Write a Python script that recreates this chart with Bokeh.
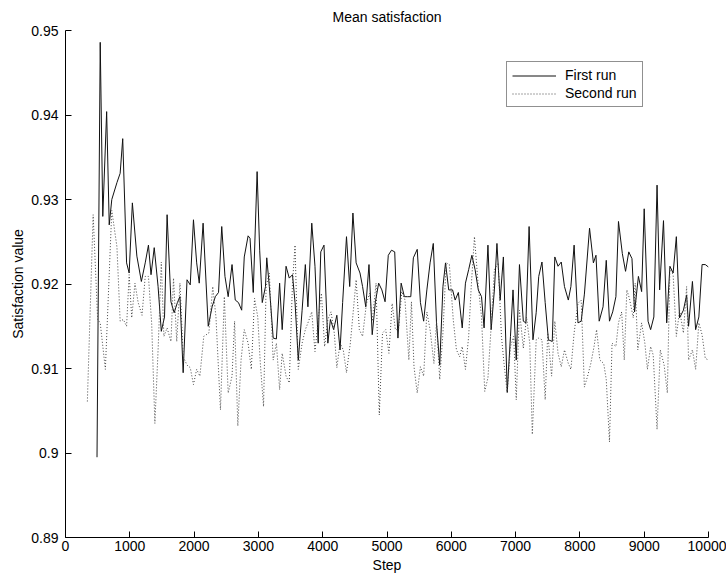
from bokeh.plotting import figure
from bokeh.models import Range1d, FixedTicker, PrintfTickFormatter, Legend, LegendItem
from bokeh.embed import file_html
from bokeh.resources import INLINE

# ---- data ----
first_steps = [490, 540, 580, 640, 680, 720, 800, 850, 890, 950, 990, 1040, 1110, 1180, 1240, 1290, 1330,
               1380, 1440, 1490, 1540, 1580, 1640, 1690, 1740, 1780, 1830, 1890, 1940, 1990, 2040, 2080,
               2140, 2220, 2280, 2330, 2380, 2430, 2480, 2530, 2590, 2640, 2690, 2740, 2780, 2840, 2870,
               2920, 2980, 3020, 3060, 3110, 3130, 3170, 3230, 3280, 3330, 3370, 3430, 3480, 3530, 3570,
               3620, 3680, 3730, 3770, 3830, 3880, 3930, 3970, 4020, 4080, 4120, 4170, 4220, 4270, 4310,
               4370, 4420, 4470, 4520, 4580, 4620, 4670, 4720, 4770, 4820, 4870, 4920, 4970, 5020, 5070,
               5120, 5170, 5220, 5270, 5320, 5370, 5410, 5470, 5520, 5570, 5620, 5670, 5720, 5770, 5820,
               5870, 5910, 5960, 6020, 6060, 6110, 6170, 6220, 6270, 6320, 6370, 6420, 6470, 6510, 6570,
               6620, 6670, 6710, 6760, 6810, 6870, 6920, 6960, 7010, 7060, 7120, 7160, 7210, 7270, 7320,
               7360, 7410, 7460, 7510, 7570, 7610, 7660, 7710, 7760, 7820, 7860, 7910, 7970, 8020, 8070,
               8150, 8210, 8250, 8300, 8360, 8410, 8460, 8510, 8560, 8600, 8660, 8710, 8760, 8810, 8850,
               8910, 8960, 9000, 9060, 9100, 9150, 9200, 9240, 9300, 9350, 9400, 9450, 9500, 9550, 9610,
               9660, 9690, 9750, 9800, 9850, 9900, 9950, 10000]
first_vals = [0.8995, 0.9486, 0.9280, 0.9404, 0.9270, 0.9300, 0.9320, 0.9331, 0.9372, 0.9225, 0.9213,
              0.9296, 0.9233, 0.9203, 0.9225, 0.9246, 0.9211, 0.9243, 0.9197, 0.9144, 0.9161, 0.9282,
              0.9179, 0.9166, 0.9178, 0.9185, 0.9095, 0.9205, 0.9199, 0.9276, 0.9225, 0.9201, 0.9272,
              0.9150, 0.9173, 0.9185, 0.9190, 0.9268, 0.9209, 0.9185, 0.9223, 0.9181, 0.9178, 0.9169,
              0.9232, 0.9257, 0.9254, 0.9190, 0.9333, 0.9240, 0.9178, 0.9197, 0.9231, 0.9197, 0.9136,
              0.9135, 0.9201, 0.9146, 0.9221, 0.9207, 0.9211, 0.9178, 0.9110, 0.9169, 0.9223, 0.9173,
              0.9272, 0.9221, 0.9130, 0.9238, 0.9246, 0.9130, 0.9158, 0.9146, 0.9163, 0.9122, 0.9178,
              0.9256, 0.9197, 0.9284, 0.9225, 0.9213, 0.9197, 0.9173, 0.9223, 0.9140, 0.9179, 0.9201,
              0.9193, 0.9179, 0.9234, 0.9240, 0.9238, 0.9136, 0.9201, 0.9185, 0.9185, 0.9185, 0.9231,
              0.9241, 0.9178, 0.9156, 0.9193, 0.9225, 0.9248, 0.9154, 0.9104, 0.9197, 0.9225, 0.9193,
              0.9193, 0.9181, 0.9190, 0.9148, 0.9201, 0.9217, 0.9234, 0.9217, 0.9193, 0.9185, 0.9148,
              0.9246, 0.9146, 0.9193, 0.9248, 0.9181, 0.9232, 0.9072, 0.9138, 0.9193, 0.9110, 0.9223,
              0.9156, 0.9154, 0.9268, 0.9134, 0.9166, 0.9209, 0.9226, 0.9178, 0.9134, 0.9132, 0.9232,
              0.9221, 0.9226, 0.9197, 0.9181, 0.9197, 0.9246, 0.9154, 0.9156, 0.9188, 0.9266, 0.9225,
              0.9234, 0.9156, 0.9173, 0.9228, 0.9156, 0.9167, 0.9185, 0.9274, 0.9236, 0.9215, 0.9238,
              0.9230, 0.9167, 0.9209, 0.9191, 0.9289, 0.9156, 0.9146, 0.9161, 0.9317, 0.9193, 0.9275,
              0.9154, 0.9221, 0.9213, 0.9256, 0.9160, 0.9169, 0.9187, 0.9150, 0.9203, 0.9146, 0.9161,
              0.9223, 0.9223, 0.9220]

second_steps = [340, 430, 500, 540, 620, 720, 800, 850, 900, 950, 990, 1030, 1080, 1130, 1190, 1240, 1290,
                1340, 1390, 1440, 1490, 1530, 1580, 1640, 1680, 1730, 1780, 1830, 1890, 1940, 1990, 2040,
                2090, 2150, 2230, 2290, 2340, 2410, 2470, 2530, 2590, 2630, 2680, 2730, 2780, 2840, 2890,
                2940, 2990, 3030, 3080, 3120, 3170, 3230, 3280, 3330, 3370, 3430, 3480, 3530, 3570, 3620,
                3680, 3730, 3780, 3830, 3880, 3940, 3980, 4030, 4080, 4130, 4180, 4220, 4270, 4320, 4370,
                4430, 4520, 4570, 4620, 4680, 4730, 4770, 4830, 4880, 4930, 4980, 5030, 5080, 5130, 5180,
                5230, 5280, 5340, 5380, 5420, 5470, 5520, 5570, 5620, 5670, 5730, 5770, 5820, 5870, 5920,
                5970, 6030, 6080, 6130, 6170, 6220, 6270, 6310, 6360, 6420, 6470, 6520, 6570, 6620, 6670,
                6730, 6780, 6820, 6870, 6920, 6970, 7010, 7060, 7120, 7170, 7220, 7260, 7320, 7360, 7410,
                7460, 7500, 7560, 7610, 7660, 7710, 7760, 7820, 7860, 7910, 7970, 8020, 8070, 8120, 8170,
                8220, 8260, 8310, 8370, 8410, 8460, 8500, 8560, 8600, 8650, 8690, 8730, 8770, 8830, 8860,
                8900, 8960, 9010, 9050, 9100, 9140, 9200, 9250, 9310, 9360, 9400, 9450, 9500, 9550, 9610,
                9660, 9690, 9750, 9800, 9850, 9900, 9950, 10000]
second_vals = [0.9061, 0.9282, 0.9158, 0.9154, 0.9099, 0.9287, 0.9244, 0.9156, 0.9158, 0.9150, 0.9211,
               0.9160, 0.9201, 0.9178, 0.9163, 0.9209, 0.9209, 0.9154, 0.9035, 0.9122, 0.9226, 0.9138,
               0.9148, 0.9132, 0.9207, 0.9132, 0.9201, 0.9114, 0.9104, 0.9101, 0.9081, 0.9099, 0.9091,
               0.9138, 0.9142, 0.9197, 0.9161, 0.9051, 0.9185, 0.9071, 0.9091, 0.9156, 0.9032, 0.9110,
               0.9146, 0.9130, 0.9099, 0.9183, 0.9161, 0.9106, 0.9055, 0.9197, 0.9213, 0.9110, 0.9130,
               0.9075, 0.9118, 0.9091, 0.9083, 0.9201, 0.9246, 0.9099, 0.9130, 0.9146, 0.9156, 0.9167,
               0.9120, 0.9165, 0.9189, 0.9126, 0.9158, 0.9167, 0.9142, 0.9101, 0.9130, 0.9122, 0.9095,
               0.9130, 0.9205, 0.9146, 0.9138, 0.9177, 0.9189, 0.9156, 0.9201, 0.9045, 0.9142, 0.9146,
               0.9118, 0.9177, 0.9146, 0.9146, 0.9191, 0.9181, 0.9110, 0.9179, 0.9102, 0.9071, 0.9102,
               0.9091, 0.9167, 0.9146, 0.9106, 0.9156, 0.9087, 0.9142, 0.9225, 0.9223, 0.9158, 0.9122,
               0.9114, 0.9126, 0.9099, 0.9138, 0.9197, 0.9256, 0.9197, 0.9161, 0.9073, 0.9089, 0.9150,
               0.9217, 0.9225, 0.9138, 0.9106, 0.9071, 0.9126, 0.9138, 0.9063, 0.9169, 0.9124, 0.9161,
               0.9130, 0.9022, 0.9134, 0.9136, 0.9134, 0.9063, 0.9142, 0.9091, 0.9156, 0.9118, 0.9102,
               0.9122, 0.9106, 0.9099, 0.9142, 0.9177, 0.9181, 0.9078, 0.9091, 0.9106, 0.9126, 0.9146,
               0.9110, 0.9106, 0.9087, 0.9013, 0.9130, 0.9126, 0.9154, 0.9167, 0.9110, 0.9193, 0.9183,
               0.9160, 0.9201, 0.9122, 0.9154, 0.9130, 0.9099, 0.9126, 0.9116, 0.9028, 0.9122, 0.9104,
               0.9071, 0.9219, 0.9211, 0.9138, 0.9169, 0.9142, 0.9197, 0.9110, 0.9122, 0.9099, 0.9154,
               0.9140, 0.9112, 0.9110]

x_ticks = [0, 1000, 2000, 3000, 4000, 5000, 6000, 7000, 8000, 9000, 10000]
y_ticks = [0.89, 0.90, 0.91, 0.92, 0.93, 0.94, 0.95]

FONT = "Liberation Sans"

p = figure(width=726, height=575, output_backend="svg", toolbar_location=None,
           x_range=Range1d(0, 10000), y_range=Range1d(0.89, 0.95),
           min_border_left=65, min_border_right=18, min_border_top=30, min_border_bottom=37,
           title="Mean satisfaction")
p.background_fill_color = "white"
p.border_fill_color = "white"
p.outline_line_color = None
p.grid.visible = False

p.title.align = "center"
p.title.vertical_align = "top"
p.title.text_font = FONT
p.title.text_font_size = "14px"
p.title.text_font_style = "normal"
p.title.text_color = "black"
p.title.standoff = 8

for ax in (p.xaxis[0], p.yaxis[0]):
    ax.axis_line_color = "black"
    ax.major_tick_line_color = "black"
    ax.minor_tick_line_color = None
    ax.major_tick_in = 6
    ax.major_tick_out = 0
    ax.major_label_text_font = FONT
    ax.major_label_text_font_size = "14px"
    ax.major_label_text_color = "black"
    ax.axis_label_text_font = FONT
    ax.axis_label_text_font_size = "14px"
    ax.axis_label_text_font_style = "normal"
    ax.axis_label_text_color = "black"

p.xaxis.ticker = FixedTicker(ticks=x_ticks)
p.yaxis.ticker = FixedTicker(ticks=y_ticks)
p.yaxis.formatter = PrintfTickFormatter(format="%.2g")
p.xaxis.axis_label = "Step"
p.yaxis.axis_label = "Satisfaction value"
p.xaxis.major_label_standoff = 3
p.xaxis.axis_label_standoff = 3
p.yaxis.major_label_standoff = 7
p.yaxis.axis_label_standoff = 2

r1 = p.line(first_steps, first_vals, line_color="#111111", line_width=1)
r2 = p.line(second_steps, second_vals, line_color="#444444", line_width=1, line_dash="1 2")

legend = Legend(items=[LegendItem(label="First run", renderers=[r1]),
                       LegendItem(label="Second run", renderers=[r2])],
                location=(441, 430))
legend.label_text_font = FONT
legend.label_text_font_size = "14px"
legend.label_text_color = "black"
legend.border_line_color = "#222222"
legend.border_line_width = 1
legend.background_fill_color = "white"
legend.background_fill_alpha = 1
legend.padding = 5
legend.spacing = 2
legend.margin = 0
legend.glyph_width = 44
legend.glyph_height = 15
legend.label_height = 15
legend.label_standoff = 9
p.add_layout(legend, "center")

open("out.html", "w").write(file_html(p, INLINE))
